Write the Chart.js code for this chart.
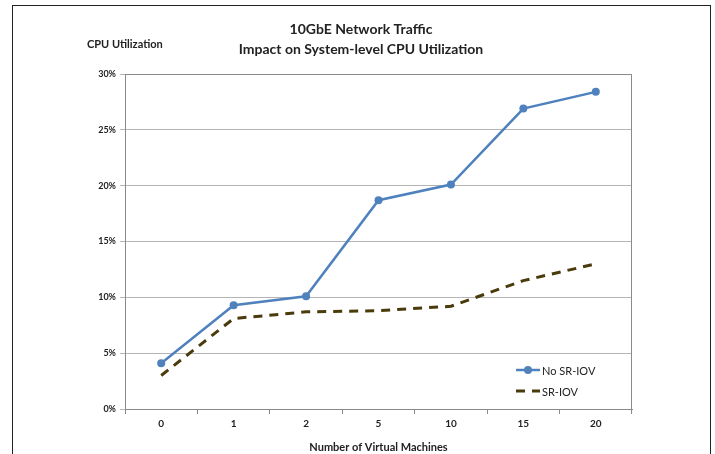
<!DOCTYPE html>
<html>
<head>
<meta charset="utf-8">
<script src="https://cdn.jsdelivr.net/npm/chart.js@4.4.1/dist/chart.umd.min.js"></script>
<style>
  html, body { margin: 0; padding: 0; background: #fff; }
  #wrap { position: relative; width: 715px; height: 454px; }
  #frame { position: absolute; left: 12px; top: 5px; width: 699px; height: 460px;
           border: 1px solid #222; border-bottom: none; box-sizing: border-box; }
  canvas { position: absolute; left: 0; top: 0; }
</style>
</head>
<body>
<div id="wrap">
  <div id="frame"></div>
  <canvas id="cpuChart" width="715" height="454"></canvas>
</div>
<script>
// values, in %
const vmCounts = ['0', '1', '2', '5', '10', '15', '20'];
const noSriov = [4.1, 9.3, 10.1, 18.7, 20.1, 26.9, 28.4];
const sriov = [3.0, 8.1, 8.7, 8.8, 9.2, 11.5, 13.0];
const titleLines = ['10GbE Network Traffic', 'Impact on System-level CPU Utilization'];

const FONT = 'Lato, "Open Sans", sans-serif';

// title, y caption, plot border and the legend inside the plot
const extras = {
    id: 'extras',
    afterDraw(chart) {
        const ctx = chart.ctx;
        const area = chart.chartArea;
        ctx.save();
        ctx.strokeStyle = '#8a8a8a';
        ctx.lineWidth = 1;
        ctx.beginPath();
        ctx.moveTo(area.left + 0.5, area.bottom);
        ctx.lineTo(area.left + 0.5, area.top + 0.5);
        ctx.lineTo(area.right - 0.5, area.top + 0.5);
        ctx.lineTo(area.right - 0.5, area.bottom);
        ctx.stroke();

        ctx.fillStyle = '#222';
        ctx.textAlign = 'center';
        ctx.textBaseline = 'middle';
        ctx.font = 'bold 14px ' + FONT;
        ctx.fillText(titleLines[0], 361, 29);
        ctx.fillText(titleLines[1], 361, 49);

        ctx.font = 'bold 11px ' + FONT;
        ctx.textAlign = 'left';
        ctx.fillText('CPU Utilization', 87, 44);

        // legend
        const sets = chart.data.datasets;
        const lx = 516, ly = [370, 391];
        ctx.font = '11px ' + FONT;
        sets.forEach(function(ds, i) {
            ctx.strokeStyle = ds.borderColor;
            ctx.lineWidth = ds.borderWidth;
            ctx.setLineDash(ds.borderDash || []);
            ctx.beginPath();
            ctx.moveTo(lx, ly[i]);
            ctx.lineTo(lx + 24, ly[i]);
            ctx.stroke();
            ctx.setLineDash([]);
            if (ds.pointRadius > 0) {
                ctx.fillStyle = ds.borderColor;
                ctx.beginPath();
                ctx.arc(lx + 12, ly[i], 4, 0, Math.PI * 2);
                ctx.fill();
            }
            ctx.fillStyle = '#222';
            ctx.fillText(ds.label, lx + 26, ly[i] + 1);
        });
        ctx.restore();
    }
};

new Chart(document.getElementById('cpuChart').getContext('2d'), {
    type: 'line',
    data: {
        labels: vmCounts,
        datasets: [{
            label: 'No SR-IOV',
            data: noSriov,
            borderColor: '#4f81bd',
            backgroundColor: '#4f81bd',
            borderWidth: 2.5,
            pointRadius: 4,
            pointBackgroundColor: '#4f81bd',
            pointBorderWidth: 0,
            tension: 0
        }, {
            label: 'SR-IOV',
            data: sriov,
            borderColor: '#4a3b0c',
            backgroundColor: '#4a3b0c',
            borderWidth: 3,
            borderDash: [9, 7],
            pointRadius: 0,
            tension: 0
        }]
    },
    options: {
        responsive: false,
        animation: false,
        layout: { padding: { top: 74, right: 83, left: 0, bottom: 0 } },
        plugins: { legend: { display: false }, title: { display: false }, tooltip: { enabled: false } },
        scales: {
            x: {
                offset: true,
                grid: { offset: true, drawOnChartArea: false, drawTicks: true, tickLength: 5, color: '#8a8a8a' },
                border: { color: '#8a8a8a' },
                ticks: { color: '#222', font: { family: FONT, size: 10, weight: 'bold' }, padding: 4 },
                title: { display: true, text: 'Number of Virtual Machines', color: '#222',
                         font: { family: FONT, size: 11, weight: 'bold' }, padding: { top: 4, bottom: 0 } },
                afterFit: function(scale) { scale.height = 45; }
            },
            y: {
                min: 0,
                max: 30,
                grid: { color: '#b4b4b4', tickLength: 5, drawTicks: true },
                border: { color: '#8a8a8a' },
                ticks: {
                    stepSize: 5,
                    color: '#222',
                    font: { family: FONT, size: 9, weight: 'bold' },
                    padding: 4,
                    callback: function(v) { return v + '%'; }
                },
                afterFit: function(scale) { scale.width = 125; }
            }
        }
    },
    plugins: [extras]
});
</script>
</body>
</html>
